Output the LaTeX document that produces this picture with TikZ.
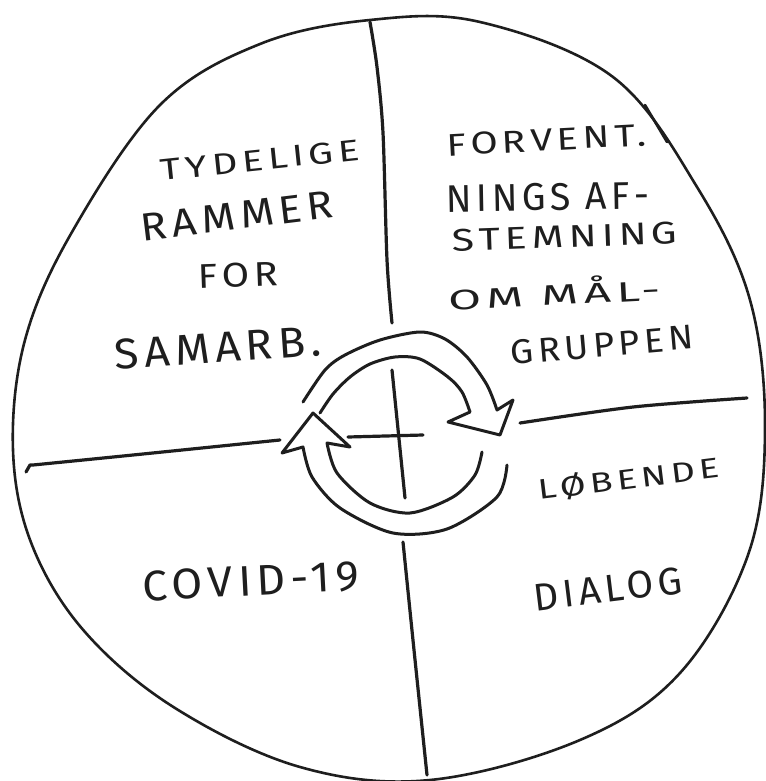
\documentclass[tikz,border=0pt]{standalone}
\usepackage{fontspec}
\usepackage{graphicx}
\newfontfamily\hand[LetterSpace=12]{Fira Sans}
\definecolor{ink}{HTML}{1E1E1E}
\newcommand\hw[3]{\resizebox{#1pt}{#2pt}{\fontsize{30}{30}\hand #3}}
\tikzset{
  lbl/.style={inner sep=0pt, text=ink},
  outl/.style={draw=ink, line width=2.6pt, line cap=round, line join=round},
  quad/.style={draw=ink, line width=3.2pt, line cap=round, line join=round},
  arr/.style={draw=ink, line width=3pt, line cap=round, line join=round}
}
\begin{document}
\begin{tikzpicture}[x=1pt,y=-1pt]
\useasboundingbox[fill=white] (0,0) rectangle (765,781);
% outline
\draw[outl] plot[smooth cycle, tension=0.6] coordinates {
 (370,20) (480,22) (613,77) (697,187) (750,300) (765,430) (748,555)
 (680,673) (580,740) (430,780) (300,767) (175,708) (85,632) (32,545)
 (13,450) (25,340) (72,232) (160,105) (260,44)};
\draw[outl] (645,105) -- (667,142);
% quadrant lines
\coordinate (vt1) at (370,22);
\coordinate (vt2) at (392,323);
\draw[quad] plot[smooth] coordinates {(vt1) (377,67) (383,133) (387,260) (vt2)};
\coordinate (vc1) at (392,370);
\coordinate (vc2) at (405,498);
\draw[quad] (vc1) -- (vc2);
\coordinate (hc1) at (348,437);
\coordinate (hc2) at (423,435);
\draw[quad] (hc1) -- (hc2);
\coordinate (vb1) at (403,542);
\coordinate (vb2) at (427,775);
\draw[quad] plot[smooth] coordinates {(vb1) (414,650) (vb2)};
\coordinate (hl1) at (27,469);
\coordinate (hl2) at (280,440);
\draw[quad] (26,472) -- (30,465) -- plot[smooth] coordinates {(33,465) (133,455) (hl2)};
\coordinate (hr1) at (520,423);
\coordinate (hr2) at (747,398);
\draw[quad] plot[smooth] coordinates {(hr1) (633,407) (hr2)};
% upper circular arrow
\draw[arr] plot[smooth] coordinates {(303,402) (325,370) (345,355) (380,340) (420,332) (445,339) (467,357) (487,385) (497,410)}
  -- (513,400) -- (500,435) -- (448,422)
  -- plot[smooth] coordinates {(470,412) (462,392) (448,377) (420,359) (395,357) (370,364) (350,377) (333,394) (320,413)};
% lower circular arrow
\draw[arr] plot[smooth] coordinates {(507,465) (497,497) (447,529) (393,533) (340,508) (312,477) (303,447)}
  -- (282,453) -- (313,413) -- (350,447)
  -- plot[smooth] coordinates {(327,443) (337,473) (370,503) (410,513) (453,497) (475,475) (482,452)};
% texts
\node[lbl, rotate=6] (t1) at (260,160) {\hw{200}{21}{TYDELIGE}};
\node[lbl, rotate=7] (t2) at (237,216) {\hw{193}{27}{RAMMER}};
\node[lbl, rotate=2] (t3) at (238,275) {\hw{80}{24}{FOR}};
\node[lbl, rotate=4] (t4) at (218,348) {\hw{207}{30}{SAMARB.}};
\node[lbl, rotate=3] (r1) at (547,140) {\hw{200}{22}{FORVENT.}};
\node[lbl, rotate=1] (r2) at (548,197) {\hw{203}{27}{NINGS AF-}};
\node[lbl, rotate=2] (r3) at (565,237) {\hw{225}{22}{STEMNING}};
\node[lbl, rotate=3] (r4) at (554,292) {\hw{212}{27}{OM MÅL-}};
\node[lbl, rotate=5] (r5) at (602,345) {\hw{183}{24}{GRUPPEN}};
\node[lbl, rotate=7] (b1) at (629,479) {\hw{182}{23}{LØBENDE}};
\node[lbl, rotate=7] (b2) at (608,589) {\hw{150}{27}{DIALOG}};
\node[lbl, rotate=3] (l1) at (251,581) {\hw{217}{30}{COVID-19}};
\end{tikzpicture}
\end{document}
